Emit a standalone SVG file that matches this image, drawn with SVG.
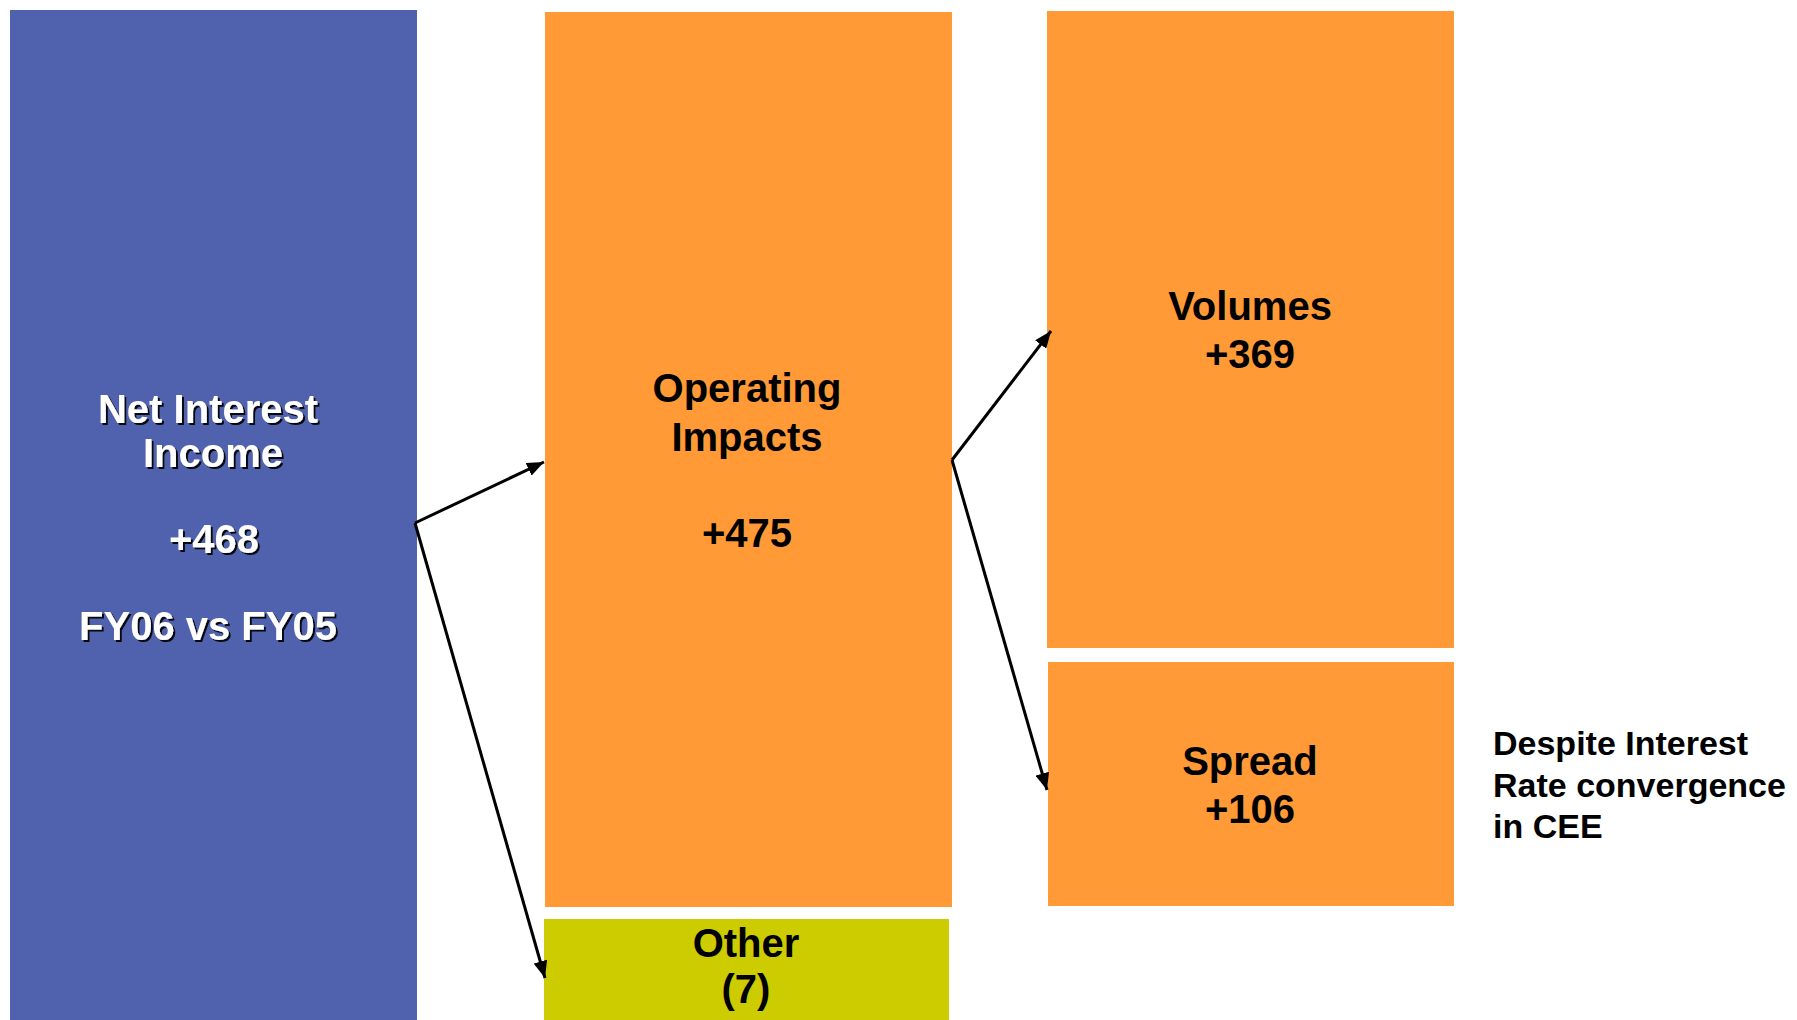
<svg xmlns="http://www.w3.org/2000/svg" width="1797" height="1020" viewBox="0 0 1797 1020">
<defs>
<style>
.t{font-family:"Liberation Sans",Arial,sans-serif;font-weight:bold;font-size:40px;text-anchor:middle;fill:#000}
.w{fill:#fff;filter:url(#sh)}
.side{font-family:"Liberation Sans",Arial,sans-serif;font-weight:bold;font-size:34px;fill:#000}
.c{stroke:#000;stroke-width:3;fill:none;marker-end:url(#ah)}
.or{fill:#FF9A36}
</style>
<filter id="sh" x="-10%" y="-10%" width="130%" height="130%">
<feDropShadow dx="2" dy="2" stdDeviation="0.6" flood-color="#000" flood-opacity="0.9"/>
</filter>
<marker id="ah" markerUnits="userSpaceOnUse" markerWidth="18" markerHeight="14" refX="17" refY="7" orient="auto">
<path d="M0,0 L17,7 L0,14 z" fill="#000"/>
</marker>
</defs>
<rect width="1797" height="1020" fill="#fff"/>
<g id="nii">
<rect x="10" y="10" width="407" height="1010" fill="#5061AE"/>
<text class="t w" x="208" y="423">Net Interest</text>
<text class="t w" x="213" y="467">Income</text>
<text class="t w" x="214" y="553">+468</text>
<text class="t w" x="208" y="640">FY06 vs FY05</text>
</g>
<g id="operating">
<rect class="or" x="545" y="12" width="407" height="895"/>
<text class="t" x="747" y="402">Operating</text>
<text class="t" x="747" y="451">Impacts</text>
<text class="t" x="747" y="547">+475</text>
</g>
<g id="other">
<rect x="544" y="919" width="405" height="101" fill="#CCCC00"/>
<text class="t" x="746" y="957">Other</text>
<text class="t" x="746" y="1003">(7)</text>
</g>
<g id="volumes">
<rect class="or" x="1047" y="11" width="407" height="637"/>
<text class="t" x="1250" y="320">Volumes</text>
<text class="t" x="1250" y="368">+369</text>
</g>
<g id="spread">
<rect class="or" x="1048" y="662" width="406" height="244"/>
<text class="t" x="1250" y="775">Spread</text>
<text class="t" x="1250" y="823">+106</text>
</g>
<g id="note">
<text class="side" x="1493" y="755">Despite Interest</text>
<text class="side" x="1493" y="797">Rate convergence</text>
<text class="side" x="1493" y="838">in CEE</text>
</g>
<g id="connectors">
<path class="c" d="M415,523 L544,462"/>
<path class="c" d="M415,523 L545,978"/>
<path class="c" d="M952,460 L1051,331"/>
<path class="c" d="M952,460 L1047,790"/>
</g>
</svg>
